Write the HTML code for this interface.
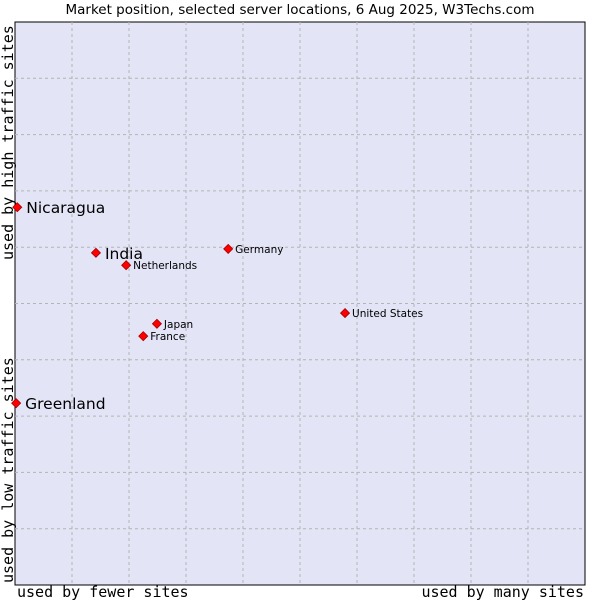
<!DOCTYPE html>
<html><head><meta charset="utf-8"><style>
body{margin:0;background:#fff;}
svg text{font-family:"DejaVu Sans","Liberation Sans",sans-serif;}
.mono{font-family:"DejaVu Sans Mono","Liberation Mono",monospace;font-size:15px;}
</style></head><body>
<svg id="chart" width="600" height="600">
<text x="300" y="14" text-anchor="middle" font-size="13.5" fill="#000">Market position, selected server locations, 6 Aug 2025, W3Techs.com</text>
<rect x="15" y="22" width="570" height="563" fill="#e3e5f7" stroke="#000" stroke-width="1"/>
<g id="grid"></g>
<g id="points"></g>
<text class="mono" x="17" y="597">used by fewer sites</text>
<text class="mono" x="584" y="597" text-anchor="end">used by many sites</text>
<text class="mono" transform="translate(13,260) rotate(-90)">used by high traffic sites</text>
<text class="mono" transform="translate(13,583) rotate(-90)">used by low traffic sites</text>
</svg>
<script>
const names=["Nicaragua","India","Netherlands","Germany","United States","Japan","France","Greenland"];
const xVals=[0.04,1.42,1.95,3.74,5.79,2.49,2.25,0.02];
const yVals=[6.71,5.9,5.68,5.97,4.83,4.64,4.42,3.23];
const bigLabel=[true,true,false,false,false,false,false,true];
const NS="http://www.w3.org/2000/svg";
const L=15,T=22,W=570,H=563;
function xs(v){return L+v/10*W;}
function ys(v){return T+H-v/10*H;}
const grid=document.getElementById('grid');
for(let i=1;i<10;i++){
  let l=document.createElementNS(NS,'line');
  l.setAttribute('x1',xs(i));l.setAttribute('x2',xs(i));l.setAttribute('y1',T);l.setAttribute('y2',T+H);
  l.setAttribute('stroke','#b4b4b4');l.setAttribute('stroke-dasharray','3,3');
  
  
  grid.appendChild(l);
  let h=document.createElementNS(NS,'line');
  h.setAttribute('y1',ys(i));h.setAttribute('y2',ys(i));h.setAttribute('x1',L);h.setAttribute('x2',L+W);
  h.setAttribute('stroke','#b4b4b4');h.setAttribute('stroke-dasharray','3,3');
  
  
  grid.appendChild(h);
}
const pts=document.getElementById('points');
names.forEach((n,i)=>{
  const x=xs(xVals[i]),y=ys(yVals[i]);
  let p=document.createElementNS(NS,'polygon');
  p.setAttribute('points',`${x},${y-4.5} ${x+4.5},${y} ${x},${y+4.5} ${x-4.5},${y}`);
  p.setAttribute('fill','#ff0000');p.setAttribute('stroke','#a00000');p.setAttribute('stroke-width','0.8');
  
  
  pts.appendChild(p);
  let t=document.createElementNS(NS,'text');
  t.setAttribute('x',x+(bigLabel[i]?9:7));
  t.setAttribute('y',y+(bigLabel[i]?6:4));
  t.setAttribute('font-size',bigLabel[i]?'15.5':'10.5');
  t.textContent=n;
  
  
  pts.appendChild(t);
});
</script>
</body></html>
